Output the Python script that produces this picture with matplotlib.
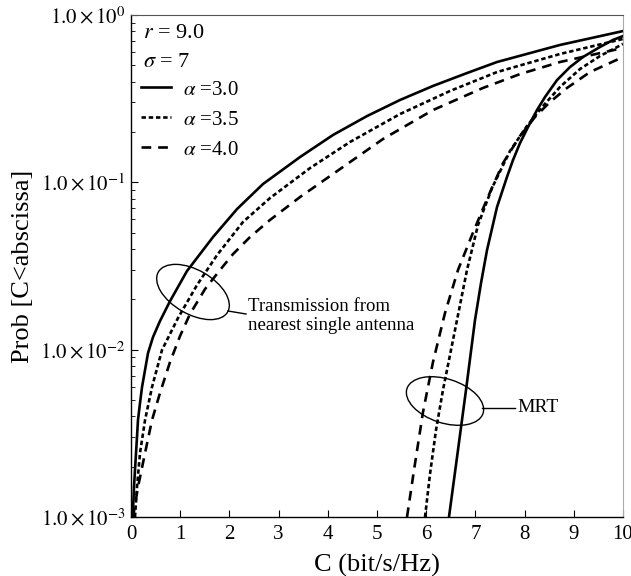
import numpy as np
import matplotlib
matplotlib.use("Agg")
import matplotlib.pyplot as plt
from matplotlib.patches import Ellipse
from matplotlib.ticker import FixedLocator, FuncFormatter, LogLocator, NullFormatter

plt.rcParams["font.family"] = ["Liberation Serif", "DejaVu Serif"]
plt.rcParams["mathtext.fontset"] = "stix"
plt.rcParams["lines.scale_dashes"] = False

# ----------------------------------------------------------------------
# data (C in bit/s/Hz, log10 of probability)
# ----------------------------------------------------------------------
single_a30_c = [0.02, 0.041, 0.061, 0.081, 0.102, 0.122, 0.142, 0.183, 0.224, 0.285, 0.346,
                0.447, 0.589, 0.793, 1.138, 1.667, 2.154, 2.683, 3.435, 4.106, 4.797,
                5.467, 6.138, 6.829, 7.439, 8.720, 10.0]
single_a30_lp = [-3.0, -2.959, -2.821, -2.720, -2.618, -2.522, -2.421, -2.319, -2.224, -2.122, -2.020,
                 -1.925, -1.829, -1.710, -1.530, -1.327, -1.160, -1.010, -0.849, -0.717, -0.604,
                 -0.508, -0.424, -0.347, -0.281, -0.179, -0.096]

single_a35_c = [0.081, 0.122, 0.183, 0.285, 0.427, 0.630, 0.955, 1.341, 1.748, 2.276, 2.825,
                3.638, 4.451, 5.467, 6.484, 7.439, 8.720, 10.0]
single_a35_lp = [-3.0, -2.821, -2.618, -2.421, -2.224, -2.002, -1.811, -1.614, -1.435, -1.237, -1.094,
                 -0.915, -0.759, -0.592, -0.454, -0.341, -0.233, -0.143]

single_a40_c = [0.041, 0.142, 0.285, 0.427, 0.589, 0.793, 0.996, 1.199, 1.504, 1.809, 2.073,
                2.419, 2.825, 3.435, 4.106, 5.122, 6.138, 7.154, 7.907, 8.720, 10.0]
single_a40_lp = [-3.0, -2.821, -2.618, -2.421, -2.259, -2.074, -1.919, -1.787, -1.638, -1.524, -1.429,
                 -1.327, -1.225, -1.088, -0.950, -0.741, -0.568, -0.436, -0.353, -0.281, -0.197]

mrt_a30_c = [6.463, 6.646, 6.809, 6.992, 7.114, 7.236, 7.439, 7.642, 7.764, 7.907, 8.110,
             8.252, 8.415, 8.659, 8.923, 9.187, 9.533, 9.797, 10.0]
mrt_a30_lp = [-3.0, -2.600, -2.241, -1.823, -1.602, -1.405, -1.148, -0.968, -0.867, -0.765, -0.646,
              -0.568, -0.490, -0.389, -0.311, -0.251, -0.191, -0.149, -0.126]

mrt_a35_c = [5.976, 6.077, 6.199, 6.341, 6.504, 6.667, 6.829, 7.053, 7.337, 7.703, 8.049,
             8.374, 8.720, 9.126, 9.533, 10.0]
mrt_a35_lp = [-3.0, -2.744, -2.481, -2.241, -2.002, -1.763, -1.524, -1.255, -1.034, -0.813, -0.663,
              -0.544, -0.430, -0.323, -0.245, -0.173]

mrt_a40_c = [5.610, 5.752, 5.935, 6.138, 6.382, 6.646, 6.931, 7.236, 7.561, 7.907, 8.211,
             8.516, 8.862, 9.329, 10.0]
mrt_a40_lp = [-3.0, -2.720, -2.373, -2.074, -1.781, -1.524, -1.315, -1.100, -0.885, -0.723, -0.610,
              -0.520, -0.436, -0.341, -0.251]

alpha_labels = [r"$\alpha$ =3.0", r"$\alpha$ =3.5", r"$\alpha$ =4.0"]
x_ticks = list(range(0, 11))
y_exponents = [-3, -2, -1, 0]

# line styles: solid, short dashes, long dashes
styles = [dict(linestyle="-"),
          dict(linestyle=(0, (3.2, 2.0))),
          dict(linestyle=(0, (7.0, 5.0)))]
lw = 1.9

# ----------------------------------------------------------------------
# figure
# ----------------------------------------------------------------------
fig = plt.figure(figsize=(6.31, 5.76), dpi=100)
ax = fig.add_axes([131 / 631, 1 - 517 / 576, (623 - 131) / 631, (517 - 15) / 576])

single = [(single_a30_c, single_a30_lp), (single_a35_c, single_a35_lp), (single_a40_c, single_a40_lp)]
mrt = [(mrt_a30_c, mrt_a30_lp), (mrt_a35_c, mrt_a35_lp), (mrt_a40_c, mrt_a40_lp)]

handles = []
for (c, lp), st, lab in zip(single, styles, alpha_labels):
    h, = ax.plot(c, 10 ** np.array(lp), color="black", lw=lw, label=lab, **st)
    handles.append(h)
for (c, lp), st in zip(mrt, styles):
    ax.plot(c, 10 ** np.array(lp), color="black", lw=lw, **st)

ax.set_yscale("log")
ax.set_xlim(0, 10)
ax.set_ylim(1e-3, 1e0)

ax.xaxis.set_major_locator(FixedLocator(x_ticks))
ax.yaxis.set_major_locator(FixedLocator([10.0 ** e for e in y_exponents]))
ax.yaxis.set_major_formatter(FuncFormatter(
    lambda v, pos: r"$1.0\times10^{%d}$" % int(round(np.log10(v)))))
ax.yaxis.set_minor_locator(LogLocator(base=10, subs=np.arange(2, 10)))
ax.yaxis.set_minor_formatter(NullFormatter())

ax.tick_params(axis="both", which="major", direction="in", length=5, width=0.8,
               labelsize=15, pad=4)
ax.tick_params(axis="y", which="minor", direction="in", length=3, width=0.6)
ax.tick_params(axis="x", which="major", pad=6)

for side in ["left", "bottom"]:
    ax.spines[side].set_color("black")
    ax.spines[side].set_linewidth(1.0)
ax.spines["top"].set_color("#555555")
ax.spines["right"].set_color("#aaaaaa")

ax.set_xlabel("C (bit/s/Hz)", fontsize=19, labelpad=7)
ax.set_ylabel("Prob [C<abscissa]", fontsize=19, labelpad=4)

# parameters + legend
ax.text(0.024, 0.963, r"$r$ = 9.0", transform=ax.transAxes, fontsize=16, va="center", ha="left")
ax.text(0.024, 0.905, r"$\sigma$ = 7", transform=ax.transAxes, fontsize=16, va="center", ha="left")
ax.legend(handles=handles, loc="upper left", bbox_to_anchor=(0.003, 0.887), frameon=False,
          fontsize=15, handlelength=1.45, handletextpad=0.58, labelspacing=0.5,
          borderaxespad=0.0)

# annotation ellipses (drawn in pixel space)
px = fig.dpi_scale_trans
ell1 = Ellipse((193 / 100, (576 - 292) / 100), 0.80, 0.44, angle=-30,
               transform=px, fill=False, edgecolor="black", lw=1.0)
ell2 = Ellipse((445 / 100, (576 - 401) / 100), 0.80, 0.44, angle=-18,
               transform=px, fill=False, edgecolor="black", lw=1.0)
fig.add_artist(ell1)
fig.add_artist(ell2)
fig.add_artist(plt.Line2D([228 / 100, 246 / 100], [(576 - 311) / 100, (576 - 314) / 100],
                          transform=px, color="black", lw=1.0))
fig.add_artist(plt.Line2D([482 / 100, 515 / 100], [(576 - 408) / 100, (576 - 408) / 100],
                          transform=px, color="black", lw=1.0))
fig.text(248 / 631, 1 - 316 / 576, "Transmission from\nnearest single antenna",
         fontsize=13.5, ha="left", va="center", linespacing=1.12)
fig.text(517 / 631, 1 - 408 / 576, "MRT", fontsize=14, ha="left", va="center")

fig.savefig("out.png", dpi=100)
